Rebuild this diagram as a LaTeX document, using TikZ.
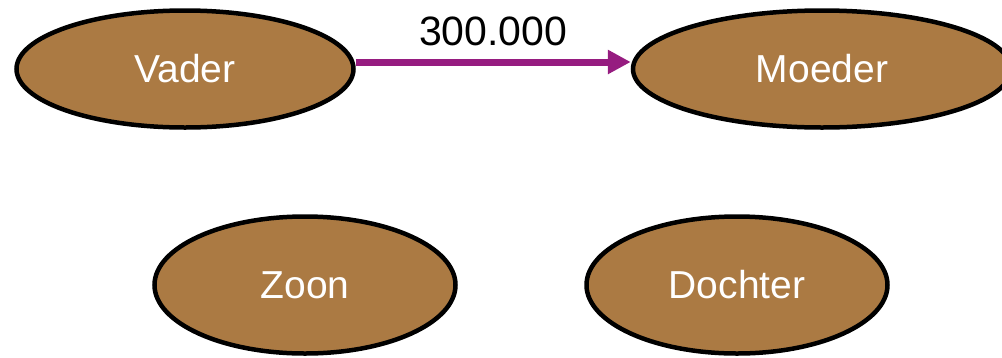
\documentclass[tikz,border=0pt]{standalone}
\usepackage{fontspec}
\setmainfont{Liberation Sans}
\usepackage{tikz}
\usetikzlibrary{positioning, shapes.geometric, arrows.meta}
\definecolor{bruin}{HTML}{AB7A43}
\definecolor{paars}{HTML}{961C80}
\tikzset{persoon/.style={ellipse, draw=black, fill=bruin, line width=4.5pt, inner sep=0pt, text=white, font=\fontsize{39}{40}\selectfont},
ouder/.style={persoon, minimum height=117pt},
kind/.style={persoon, minimum width=301pt, minimum height=137pt},
geld/.style={line width=7pt, draw=paars, -{Triangle[length=23pt, width=23pt]}},}

\begin{document}
\begin{tikzpicture}[x=1pt, y=-1pt]
\useasboundingbox (0,0) rectangle (1002,357);
\node [ouder, minimum width=337pt] (vader) at (185,69) {Vader};
\node [ouder, minimum width=378pt] (moeder) [right of=vader, node distance=637pt] {Moeder};
\node [kind] (zoon) at (305,285) {Zoon};
\node [kind] (dochter) [right of=zoon, node distance=432pt] {Dochter};
\draw[geld] ([yshift=7pt]vader.east) -- node[above, inner sep=13pt, text=black, font=\fontsize{41}{42}\selectfont] {300.000} ([yshift=7pt]moeder.west);
\end{tikzpicture}
\end{document}
